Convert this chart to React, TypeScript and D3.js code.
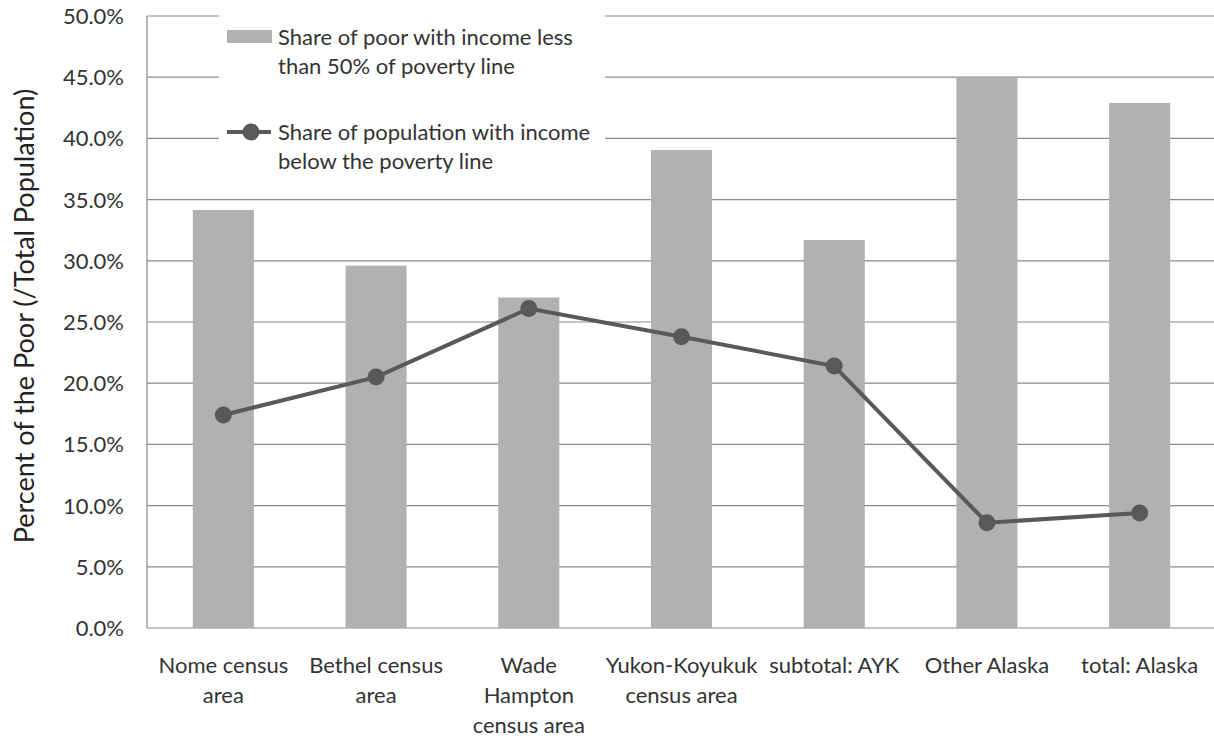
import React from "react";
import * as d3 from "d3";

const categories = [
  ["Nome census", "area"],
  ["Bethel census", "area"],
  ["Wade", "Hampton", "census area"],
  ["Yukon-Koyukuk", "census area"],
  ["subtotal: AYK"],
  ["Other Alaska"],
  ["total: Alaska"],
];
const barValues = [34.15, 29.6, 27.0, 39.05, 31.7, 44.95, 42.9];
const lineValues = [17.4, 20.5, 26.1, 23.8, 21.4, 8.6, 9.4];
const yTicks = [0, 5, 10, 15, 20, 25, 30, 35, 40, 45, 50];
const legendBar = ["Share of poor with income less", "than 50% of poverty line"];
const legendLine = ["Share of population with income", "below the poverty line"];

const W = 1214, H = 739;
const left = 147, right = 1216, top = 16, bottom = 628;
const FONT = "Lato, 'Open Sans', 'DejaVu Sans', sans-serif";
const FS = 22;

export default function App() {
  const idx = categories.map((_, i) => String(i));
  const x = d3.scaleBand().domain(idx).range([left, right]).paddingInner(0.6).paddingOuter(0.3);
  const xc = (i: number) => (x(String(i)) as number) + x.bandwidth() / 2;
  const y = d3.scaleLinear().domain([0, 50]).range([bottom, top]);
  const line = d3.line<number>().x((_, i) => xc(i)).y((d) => y(d));
  const lineColor = "#595959";
  const barColor = "#b1b1b1";
  return (
    <svg width={W} height={H} style={{ position: "absolute", left: 0, top: 0, background: "#fff" }}>
      {yTicks.map((t) => (
        <g key={t}>
          <line x1={left} x2={W} y1={y(t)} y2={y(t)} stroke="#8a8a8a" strokeWidth={1.2} />
          <text x={124} y={y(t) + 8} textAnchor="end" fontFamily={FONT} fontSize={FS} fill="#333">
            {t.toFixed(1) + "%"}
          </text>
        </g>
      ))}
      <line x1={left} x2={left} y1={top} y2={bottom} stroke="#8a8a8a" strokeWidth={1.2} />
      {barValues.map((v, i) => (
        <rect key={i} x={x(String(i))} y={y(v)} width={x.bandwidth()} height={y(0) - y(v)} fill={barColor} />
      ))}
      <path d={line(lineValues) || ""} fill="none" stroke={lineColor} strokeWidth={4} />
      {lineValues.map((v, i) => (
        <circle key={i} cx={xc(i)} cy={y(v)} r={8.5} fill={lineColor} />
      ))}
      {categories.map((lines, i) =>
        lines.map((l, j) => (
          <text key={i + "-" + j} x={xc(i)} y={673 + j * 30} textAnchor="middle" fontFamily={FONT} fontSize={FS} fill="#333">
            {l}
          </text>
        ))
      )}
      <text
        transform={`translate(34,${316}) rotate(-90)`}
        textAnchor="middle"
        fontFamily={FONT}
        fontSize={27}
        fill="#222"
      >
        Percent of the Poor (/Total Population)
      </text>
      <g>
        <rect x={219} y={10} width={386} height={186} fill="#fff" />
        <rect x={227} y={30} width={45} height={13} fill={barColor} />
        {legendBar.map((l, j) => (
          <text key={j} x={278} y={45 + j * 29} fontFamily={FONT} fontSize={FS} fill="#333">{l}</text>
        ))}
        <line x1={227} x2={271} y1={132} y2={132} stroke={lineColor} strokeWidth={4} />
        <circle cx={251} cy={132} r={8.5} fill={lineColor} />
        {legendLine.map((l, j) => (
          <text key={j} x={278} y={140 + j * 29} fontFamily={FONT} fontSize={FS} fill="#333">{l}</text>
        ))}
      </g>
    </svg>
  );
}
